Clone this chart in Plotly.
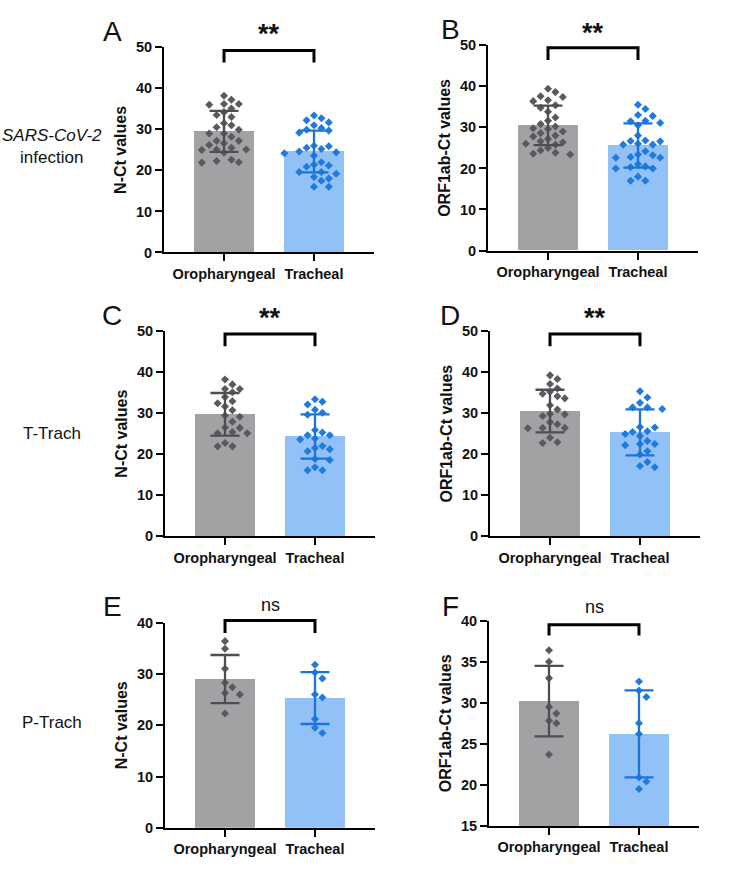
import plotly.graph_objects as go

W, H = 744, 883
FONT = "Liberation Sans, Arial, sans-serif"

categories = ["Oropharyngeal", "Tracheal"]

# ---- data (Ct values) ----
A_oro = [38.2, 37.2, 36.2, 36.2, 36.0, 35.1, 34.2, 33.5, 33.0, 31.5, 31.0, 30.5, 29.9, 29.0, 29.0,
         28.2, 27.2, 27.2, 26.6, 26.2, 25.5, 25.0, 25.1, 25.1, 24.3, 22.6, 22.3, 22.0, 21.9]
A_tra = [33.4, 32.7, 32.2, 31.7, 31.0, 30.3, 29.9, 29.7, 29.2, 26.0, 25.9, 25.5, 25.2, 24.6, 24.4,
         24.2, 23.6, 22.0, 21.4, 21.2, 20.9, 19.6, 19.6, 19.2, 18.4, 18.0, 17.5, 16.0, 16.0]
B_oro = [39.4, 38.6, 37.6, 37.4, 36.6, 36.4, 35.4, 34.8, 33.8, 32.4, 31.6, 30.8, 30.2, 29.8, 29.6,
         29.0, 28.6, 28.0, 27.8, 27.2, 26.6, 26.4, 26.0, 25.8, 25.0, 24.4, 23.8, 23.6, 23.4]
B_tra = [35.5, 34.5, 33.0, 32.8, 31.6, 31.5, 31.1, 30.5, 28.0, 26.8, 26.7, 26.6, 26.0, 25.8, 25.8,
         24.2, 23.4, 23.2, 22.8, 22.6, 22.6, 21.0, 20.5, 20.3, 20.0, 20.0, 18.0, 17.0, 17.0]
C_oro = [38.2, 37.0, 35.9, 35.9, 35.1, 33.9, 32.9, 32.4, 31.6, 30.7, 29.4, 29.1, 27.9, 26.5, 26.4,
         25.4, 25.1, 25.1, 22.7, 21.9, 21.9]
C_tra = [33.4, 32.8, 32.1, 30.8, 30.1, 29.6, 25.9, 25.3, 24.6, 24.6, 23.8, 23.6, 22.0, 21.5, 21.2,
         20.7, 18.8, 18.6, 16.8, 16.1, 16.1]
D_oro = [39.2, 38.3, 37.1, 36.0, 35.2, 34.7, 34.1, 33.6, 31.9, 30.9, 29.8, 29.7, 29.3, 27.8, 27.3,
         26.4, 26.4, 26.3, 24.0, 22.9, 22.7]
D_tra = [35.3, 33.8, 32.5, 31.4, 31.4, 31.0, 26.6, 26.5, 25.6, 25.4, 24.9, 24.4, 23.2, 22.5, 22.5,
         22.2, 20.7, 19.9, 18.1, 17.1, 16.8]
E_oro = [36.4, 34.9, 31.0, 28.3, 27.4, 26.3, 26.0, 22.3]
E_tra = [31.8, 30.3, 29.1, 26.0, 25.4, 21.2, 19.5, 18.5]
F_oro = [36.4, 35.0, 33.0, 29.5, 28.7, 27.8, 27.5, 23.7]
F_tra = [32.6, 31.5, 30.7, 27.5, 26.2, 20.9, 20.4, 19.5]

# bar heights (mean) and error bars (SD)
A_mean = [29.5, 24.6]; A_sd = [5.0, 5.1]
B_mean = [30.5, 25.6]; B_sd = [4.8, 5.4]
C_mean = [29.7, 24.3]; C_sd = [5.2, 5.4]
D_mean = [30.5, 25.3]; D_sd = [5.2, 5.6]
E_mean = [29.0, 25.3]; E_sd = [4.7, 5.05]
F_mean = [30.2, 26.2]; F_sd = [4.3, 5.3]

significance = ["**", "**", "**", "**", "ns", "ns"]
y_titles = ["N-Ct values", "ORF1ab-Ct values"] * 3
panel_letters = ["A", "B", "C", "D", "E", "F"]
row_labels = ["<i>SARS-CoV-2</i><br>infection", "T-Trach", "P-Trach"]

# ---- layout (pixels) ----
panels = [
    dict(oro=A_oro, tra=A_tra, mean=A_mean, sd=A_sd, yr=(0, 50), dt=10, box=(164, 374, 40, 249), brk=(49.2, 46.3), sy=28),
    dict(oro=B_oro, tra=B_tra, mean=B_mean, sd=B_sd, yr=(0, 50), dt=10, box=(488, 698, 38, 247), brk=(49.4, 46.4), sy=27),
    dict(oro=C_oro, tra=C_tra, mean=C_mean, sd=C_sd, yr=(0, 50), dt=10, box=(165, 375, 329, 538), brk=(49.3, 46.3), sy=318),
    dict(oro=D_oro, tra=D_tra, mean=D_mean, sd=D_sd, yr=(0, 50), dt=10, box=(490, 700, 329, 538), brk=(49.3, 46.3), sy=318),
    dict(oro=E_oro, tra=E_tra, mean=E_mean, sd=E_sd, yr=(0, 40), dt=10, box=(165, 375, 626, 835), brk=(40.4, 38.0), sy=609),
    dict(oro=F_oro, tra=F_tra, mean=F_mean, sd=F_sd, yr=(15, 40), dt=5, box=(489, 699, 624, 833), brk=(39.5, 38.2), sy=611),
]
letter_pos = [(112, 24), (450, 22), (112, 313), (450, 313), (112, 610), (450, 610)]
row_pos = [(52, 141), (52, 433), (52, 728)]

XR = (-0.667, 1.667)
BAR_W = 0.667
PX_PER_CAT = 90.0

gray_bar, blue_bar = "#A2A2A5", "#92C1F7"
gray_pt, blue_pt = "#5A5A5E", "#1F7BE0"
gray_err, blue_err = "#4E4E52", "#1B74D8"


def swarm(vals, ppy, d=7.6, step=7.4):
    """beeswarm offsets (px) so diamonds do not overlap"""
    order = sorted(range(len(vals)), key=lambda i: -vals[i])
    placed, offs = [], [0.0] * len(vals)
    cands = [0.0]
    for j in range(1, 15):
        cands += [j * step, -j * step]
    for i in order:
        y = vals[i] * ppy
        for c in cands:
            if all((c - px) ** 2 + (y - py) ** 2 >= d * d for px, py in placed):
                offs[i] = c
                placed.append((c, y))
                break
    return offs


fig = go.Figure()
layout = dict(width=W, height=H, margin=dict(l=0, r=0, t=0, b=0), showlegend=False,
              plot_bgcolor="white", paper_bgcolor="white", bargap=0,
              font=dict(family=FONT, color="#111111"))
shapes, annots = [], []

for k, p in enumerate(panels):
    n = "" if k == 0 else str(k + 1)
    xa, ya = "x" + n, "y" + n
    x0, x1, y0, y1 = p["box"]
    r0, r1 = p["yr"]
    xdom = [x0 / W, x1 / W]
    ydom = [1 - y1 / H, 1 - y0 / H]
    ppy = (y1 - y0) / (r1 - r0)

    fig.add_trace(go.Bar(x=[0, 1], y=[m - r0 for m in p["mean"]], base=r0, width=BAR_W,
                         marker=dict(color=[gray_bar, blue_bar], line=dict(width=0)),
                         xaxis=xa, yaxis=ya, hoverinfo="skip"))
    for ci, (vals, col) in enumerate([(p["oro"], gray_pt), (p["tra"], blue_pt)]):
        offs = swarm(vals, ppy)
        fig.add_trace(go.Scatter(x=[ci + o / PX_PER_CAT for o in offs], y=vals, mode="markers",
                                 marker=dict(symbol="diamond", size=6.2, color=col, line=dict(width=0)),
                                 xaxis=xa, yaxis=ya, cliponaxis=False))
    for ci, col in enumerate([gray_err, blue_err]):
        fig.add_trace(go.Scatter(x=[ci], y=[p["mean"][ci]], mode="markers",
                                 marker=dict(size=1, color="rgba(0,0,0,0)"),
                                 error_y=dict(type="data", array=[p["sd"][ci]], color=col,
                                              thickness=2.3, width=14.5),
                                 xaxis=xa, yaxis=ya, cliponaxis=False))

    axkey = "xaxis" + n
    aykey = "yaxis" + n
    layout[axkey] = dict(domain=xdom, range=list(XR), anchor=ya, tickvals=[0, 1], ticktext=categories,
                         ticks="outside", ticklen=7, tickwidth=2, tickcolor="black",
                         showline=True, linecolor="black", linewidth=2, showgrid=False, zeroline=False,
                         tickfont=dict(size=14.5, family=FONT, color="#111111", weight="bold"), fixedrange=True)
    layout[aykey] = dict(domain=ydom, range=[r0, r1], anchor=xa,
                         tickvals=list(range(r0, r1 + 1, p["dt"])),
                         ticks="outside", ticklen=7, tickwidth=2, tickcolor="black",
                         showline=True, linecolor="black", linewidth=2, showgrid=False, zeroline=False,
                         tickfont=dict(size=14.5, family=FONT, color="#111111", weight="bold"),
                         title=dict(text=y_titles[k], standoff=5,
                                    font=dict(size=16, family=FONT, color="#111111", weight="bold")),
                         fixedrange=True)

    def xd(c):
        return (c - XR[0]) / (XR[1] - XR[0])

    def yd(v):
        return (v - r0) / (r1 - r0)

    top, leg = p["brk"]
    shapes.append(dict(type="path", xref=xa + " domain", yref=ya + " domain",
                       path=f"M {xd(0)} {yd(leg)} L {xd(0)} {yd(top)} L {xd(1)} {yd(top)} L {xd(1)} {yd(leg)}",
                       line=dict(color="black", width=3)))
    sig = significance[k]
    xmid = (x0 + (xd(0.5)) * (x1 - x0)) / W
    if sig == "**":
        cy = p["sy"] - 2
        font = dict(size=27, family=FONT, color="#111111", weight="bold")
    else:
        cy = p["sy"] - 1
        font = dict(size=18, family=FONT, color="#111111")
    annots.append(dict(x=xmid, y=1 - cy / H, xref="paper", yref="paper", text=sig, showarrow=False,
                       xanchor="center", yanchor="middle", font=font))

for (lx, ly), t in zip(letter_pos, panel_letters):
    annots.append(dict(x=lx / W, y=1 - ly / H, xref="paper", yref="paper", text=t, showarrow=False,
                       xanchor="center", yanchor="middle", font=dict(size=28, family=FONT, color="#111111")))
for (lx, ly), t in zip(row_pos, row_labels):
    annots.append(dict(x=lx / W, y=1 - ly / H, xref="paper", yref="paper", text=t, showarrow=False,
                       xanchor="center", yanchor="middle", font=dict(size=17, family=FONT, color="#111111")))

layout["shapes"] = shapes
layout["annotations"] = annots
fig.update_layout(**layout)
fig.write_html("out.html")
